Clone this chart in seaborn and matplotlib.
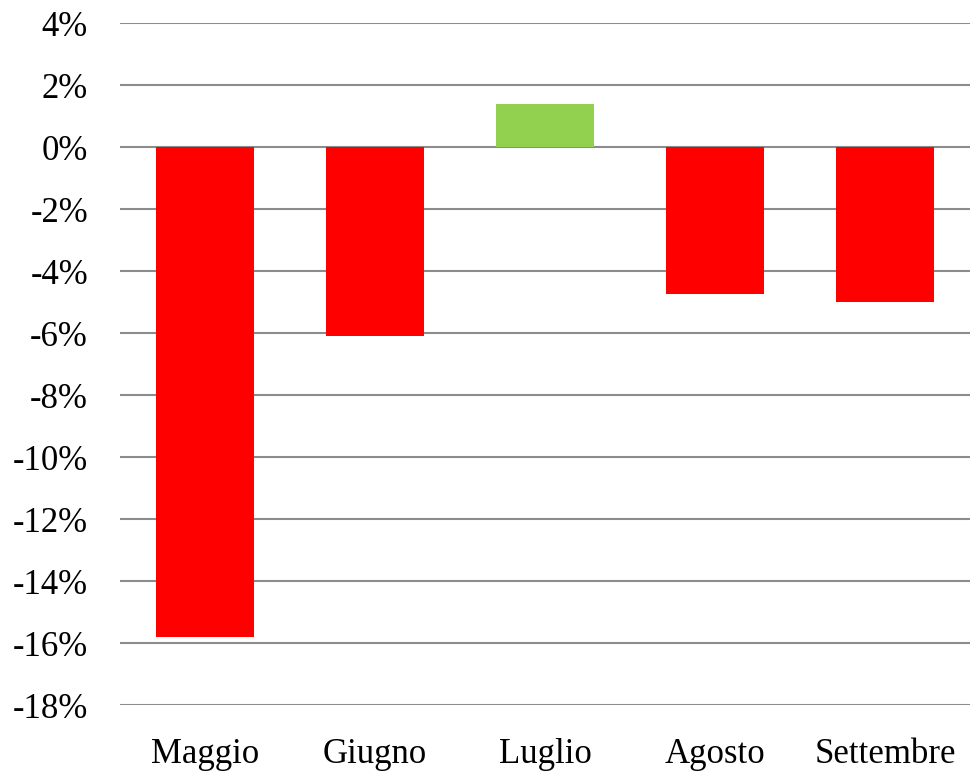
import matplotlib
matplotlib.use("Agg")
import matplotlib.pyplot as plt
import seaborn as sns
import pandas as pd
from matplotlib.ticker import FuncFormatter

# Data
months = ["Maggio", "Giugno", "Luglio", "Agosto", "Settembre"]
values = [-15.8, -6.1, 1.4, -4.75, -5.0]

df = pd.DataFrame({"Mese": months, "Variazione": values})
df["Segno"] = ["pos" if v > 0 else "neg" for v in values]

sns.set_style("white")
plt.rcParams["font.family"] = ["Liberation Serif", "DejaVu Serif"]

fig = plt.figure(figsize=(9.8, 7.79), dpi=100)
ax = fig.add_axes([120 / 980, 74 / 779, 850 / 980, 682 / 779])

sns.barplot(
    data=df, x="Mese", y="Variazione", hue="Segno",
    palette={"neg": "#FF0000", "pos": "#92D050"},
    width=0.58, dodge=False, legend=False, saturation=1,
    linewidth=0, ax=ax,
)

ax.set_ylim(-18, 4)
ax.set_yticks(range(-18, 5, 2))
ax.yaxis.set_major_formatter(FuncFormatter(lambda v, _: f"{int(v)}%"))
ax.grid(axis="y", color="#8c8c8c", linewidth=1.5)
ax.set_axisbelow(True)
for s in ax.spines.values():
    s.set_visible(False)
ax.set_xlabel("")
ax.set_ylabel("")
ax.tick_params(axis="both", length=0, labelsize=25, labelcolor="black")
ax.tick_params(axis="y", pad=23)
ax.tick_params(axis="x", pad=24)

fig.savefig("out.png", dpi=100)
